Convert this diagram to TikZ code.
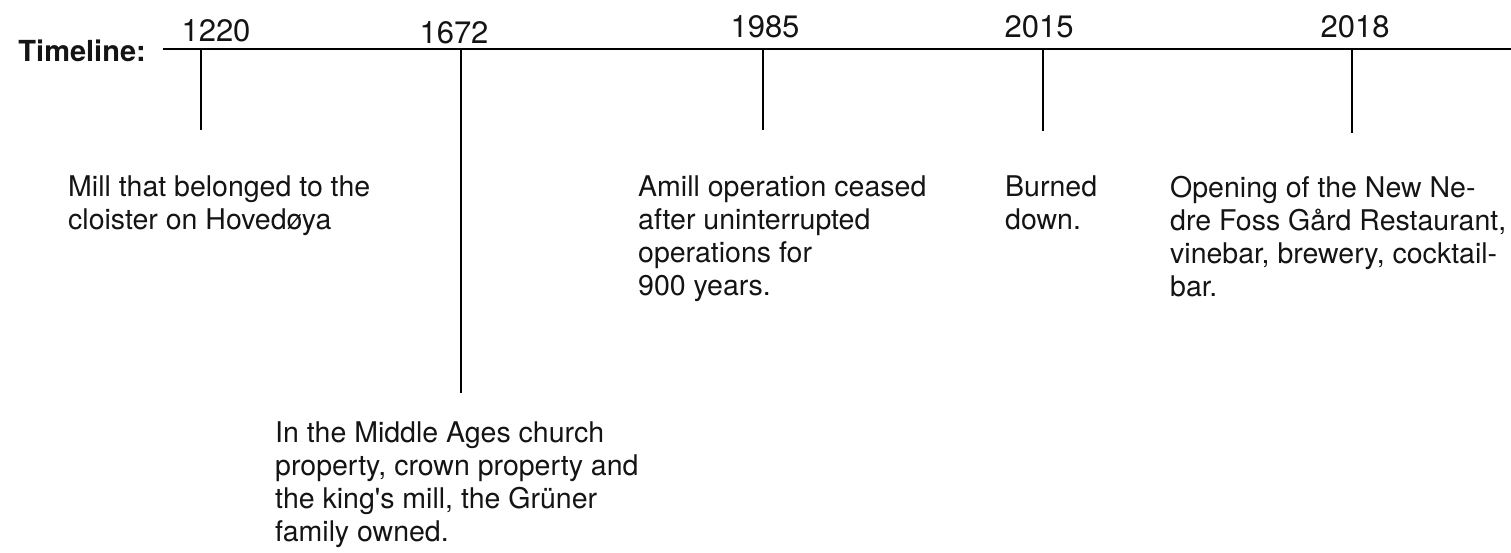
\documentclass[tikz,border=0pt]{standalone}
\usepackage{fontspec}
\setmainfont{TeX Gyre Heros}
\begin{document}
\begin{tikzpicture}[x=1pt,y=-1pt,
  axis/.style={line width=2pt,black},
  tick/.style={line width=2pt,black},
  year/.style={anchor=base,inner sep=0pt,font=\fontsize{31}{33}\selectfont,text=black!92},
  event/.style={anchor=north west,inner sep=0pt,align=left,font=\fontsize{28.5}{33}\selectfont,text=black!92},
  label/.style={anchor=base east,inner sep=0pt,font=\bfseries\fontsize{29}{30}\selectfont,text=black!92}]
\useasboundingbox (0,0) rectangle (1511,552);
% timeline axis
\coordinate (start) at (163,49);
\coordinate (end) at (1511,49);
\draw[axis] (start) -- (end);
\node[label] (tl) at (146,61) {Timeline:};
% tick points
\coordinate (a1220) at (201,49);  \coordinate (b1220) at (201,130);
\coordinate (a1672) at (461,49);  \coordinate (b1672) at (461,393);
\coordinate (a1985) at (763,49);  \coordinate (b1985) at (763,130);
\coordinate (a2015) at (1043,49); \coordinate (b2015) at (1043,131);
\coordinate (a2018) at (1352,49); \coordinate (b2018) at (1352,133);
\draw[tick] (a1220) -- (b1220);
\draw[tick] (a1672) -- (b1672);
\draw[tick] (a1985) -- (b1985);
\draw[tick] (a2015) -- (b2015);
\draw[tick] (a2018) -- (b2018);
% years
\node[year] (y1220) at (216,41) {1220};
\node[year] (y1672) at (454,43) {1672};
\node[year] (y1985) at (765,37) {1985};
\node[year] (y2015) at (1039,37) {2015};
\node[year] (y2018) at (1355,37) {2018};
% events
\node[event] (e1220) at (68,176) {Mill that belonged to the\\cloister on Hovedøya};
\node[event] (e1672) at (275,422) {In the Middle Ages church\\property, crown property and\\the king\textquotesingle s mill, the Grüner\\family owned.};
\node[event] (e1985) at (638,176) {Amill operation ceased\\after uninterrupted\\operations for\\900 years.};
\node[event] (e2015) at (1005,176) {Burned\\down.};
\node[event] (e2018) at (1170,176) {Opening of the New Ne-\\dre Foss Gård Restaurant,\\vinebar, brewery, cocktail-\\bar.};
\end{tikzpicture}
\end{document}
